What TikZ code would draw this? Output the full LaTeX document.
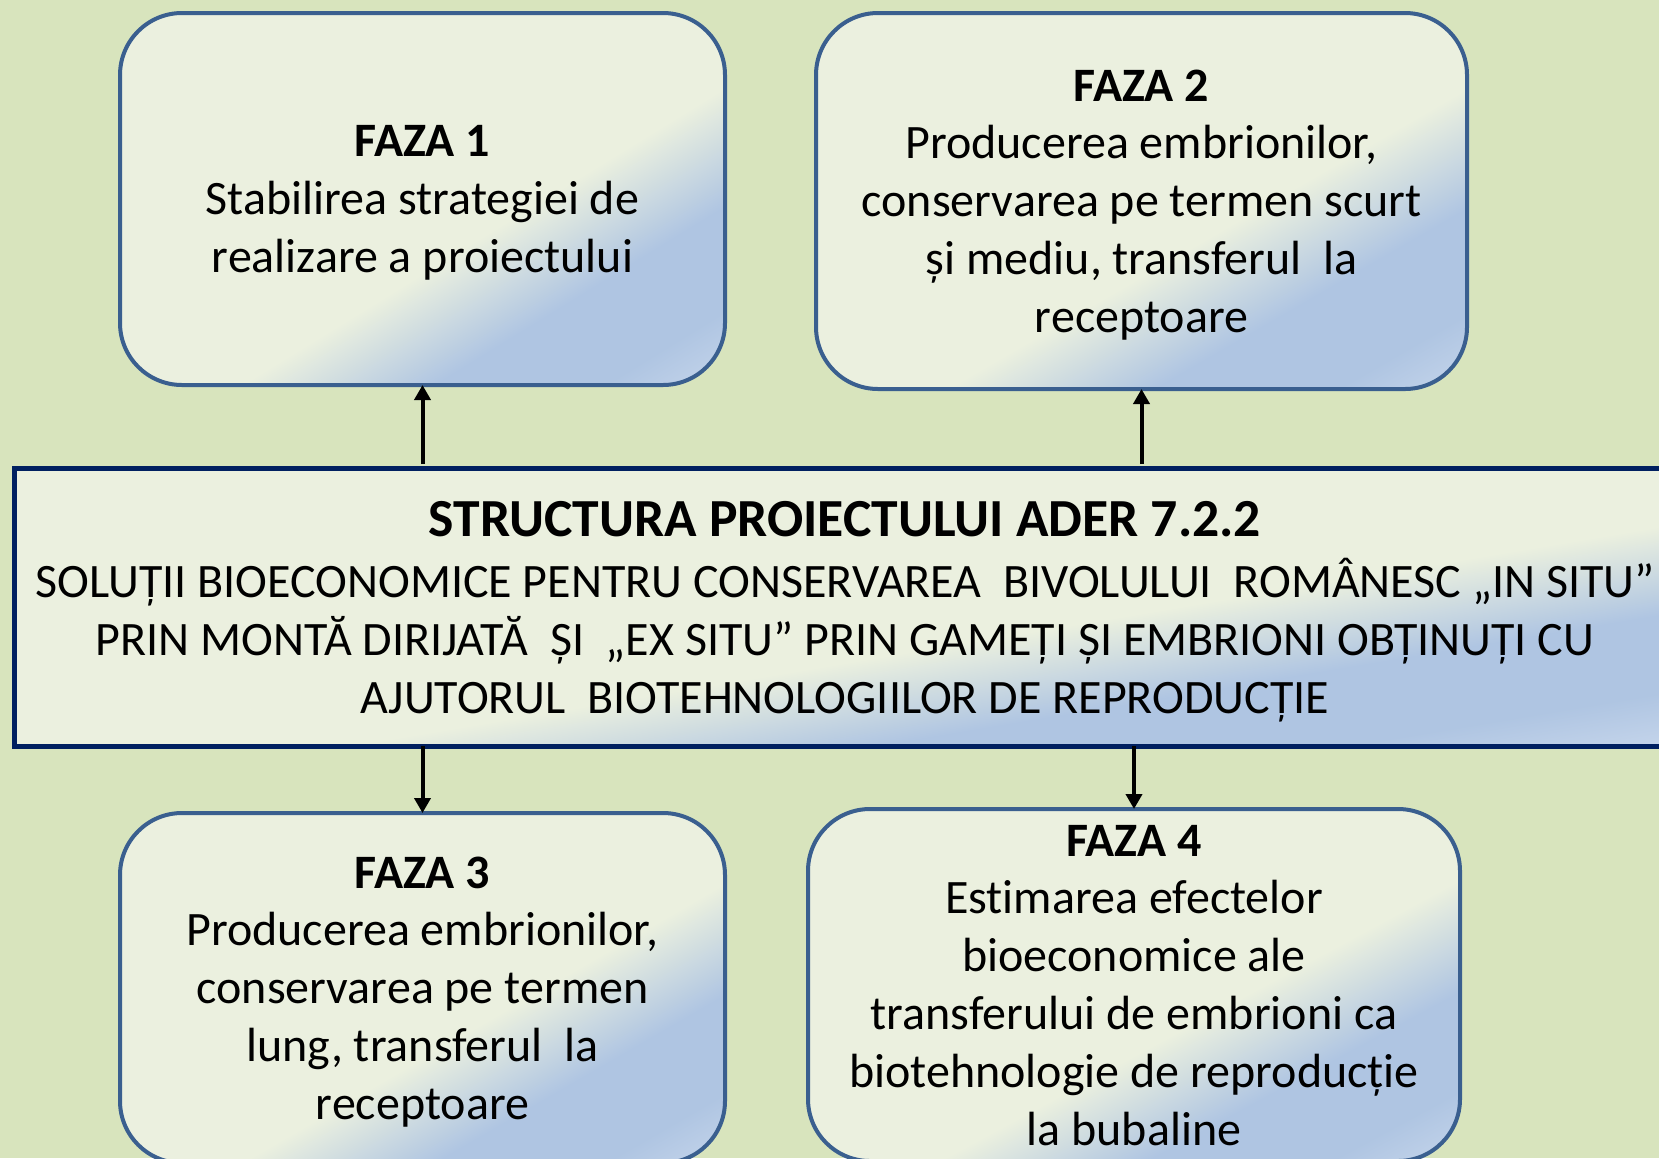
\documentclass[tikz,border=0pt]{standalone}
\usepackage{fontspec}
\setmainfont{Carlito}[Ligatures=NoCommon]
\usetikzlibrary{arrows.meta}
\definecolor{bgc}{HTML}{D8E4BD}
\definecolor{pale}{HTML}{EBF0DF}
\definecolor{bluemid}{HTML}{AFC5E2}
\definecolor{bluelight}{HTML}{C5D5EB}
\definecolor{boxline}{HTML}{3A5F8F}
\definecolor{navy}{HTML}{002060}
\pgfdeclarehorizontalshading{phase}{100bp}{color(0bp)=(pale); color(25bp)=(pale); color(55bp)=(pale); color(63bp)=(bluemid); color(70bp)=(bluemid); color(75bp)=(bluelight); color(100bp)=(bluelight)}
\newcommand\gradfill[5]{% x0 ytop W H radius (px)
  \pgfmathsetmacro\gA{#3/20}%
  \pgfmathsetmacro\gB{-#4/20}%
  \pgfmathsetmacro\gC{-#3/20}%
  \pgfmathsetmacro\gD{-#4/20}%
  \begin{scope}
    \clip[rounded corners=#5] (#1,#2) rectangle ++(#3,#4);
    \begin{scope}[transform canvas={cm={\gA,\gB,\gC,\gD,(#1,#2)}}]
      \shade[shading=phase] (0pt,-5pt) rectangle (10pt,5pt);
    \end{scope}
  \end{scope}}
\tikzset{
  phasebox/.style={draw=boxline, line width=2pt, rounded corners=31pt, inner sep=0pt, outer sep=0pt, align=center, text depth=0pt, font=\fontsize{24pt}{28.9pt}\selectfont},
  mainbox/.style={draw=navy, line width=2.5pt, inner sep=0pt, outer sep=0pt, align=center, text depth=0pt, font=\fontsize{24pt}{29pt}\selectfont},
  arr/.style={line width=2pt, -{Triangle[length=7.5pt,width=8pt]}}
}
\begin{document}
\begin{tikzpicture}[x=0.5pt,y=-0.5pt]
\useasboundingbox (0,0) rectangle (1659,1158);
\fill[bgc] (0,0) rectangle (1659,1158);
% shaded fills
\gradfill{120}{13}{605}{372}{31pt}
\gradfill{816}{13}{651}{376}{31pt}
\gradfill{120}{813}{605}{350}{31pt}
\gradfill{808}{809}{652}{352}{31pt}
\gradfill{14}{468}{1662}{278}{0pt}
% nodes
\node[phasebox, minimum width=302.5pt, minimum height=186pt] (f1) at (422.5,199)
  {\textbf{FAZA 1}\\Stabilirea strategiei de\\realizare a proiectului};
\node[phasebox, minimum width=325.5pt, minimum height=188pt] (f2) at (1141.5,201)
  {\textbf{FAZA 2}\\Producerea embrionilor,\\conservarea pe termen scurt\\și mediu, transferul\ \ la\\receptoare};
\node[phasebox, minimum width=302.5pt, minimum height=175pt] (f3) at (422.5,988)
  {\textbf{FAZA 3}\\Producerea embrionilor,\\conservarea pe termen\\lung, transferul\ \ la\\receptoare};
\node[phasebox, minimum width=326pt, minimum height=176pt] (f4) at (1134,985)
  {\textbf{FAZA 4}\\Estimarea efectelor\\bioeconomice ale\\transferului de embrioni ca\\biotehnologie de reproducție\\la bubaline};
\node[mainbox, minimum width=831pt, minimum height=139pt] (c) at (845,607)
  {{\fontsize{26.8pt}{29pt}\selectfont\bfseries STRUCTURA PROIECTULUI ADER 7.2.2}\\[1.5pt]SOLUȚII BIOECONOMICE PENTRU CONSERVAREA\ \ BIVOLULUI\ \ ROMÂNESC „IN SITU”\\PRIN MONTĂ DIRIJATĂ\ \ ȘI\ \ „EX SITU” PRIN GAMEȚI ȘI EMBRIONI OBȚINUȚI CU\\AJUTORUL\ \ BIOTEHNOLOGIILOR DE REPRODUCȚIE};
% connectors
\draw[arr] ([yshift=2pt]c.north -| f1.south) -- (f1.south);
\draw[arr] ([yshift=2pt]c.north -| f2.south) -- (f2.south);
\draw[arr] (c.south -| f3.north) -- (f3.north);
\draw[arr] (c.south -| f4.north) -- (f4.north);
\end{tikzpicture}
\end{document}
